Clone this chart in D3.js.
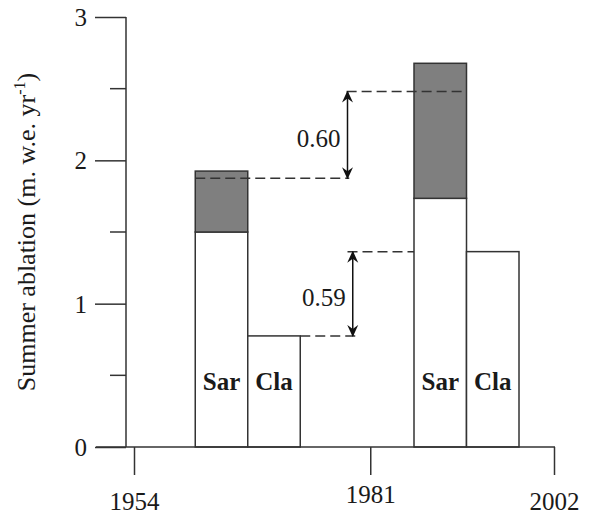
<!DOCTYPE html>
<html>
<head>
<meta charset="utf-8">
<script src="https://cdn.jsdelivr.net/npm/d3@7"></script>
<style>
    html, body { margin: 0; padding: 0; background: #fff; }
</style>
</head>
<body>
<div id="chart"></div>
<script>
// bars: glacier label, start / end year on the time axis
const barLabels = ['Sar', 'Cla', 'Sar', 'Cla'];
const barStart = [1961, 1967, 1986, 1992];
const barEnd = [1967, 1973, 1992, 1998];
// summer ablation (m w.e. per yr): white part and total height (grey on top)
const baseAblation = [1.50, 0.775, 1.735, 1.363];
const totalAblation = [1.925, 0.775, 2.677, 1.363];

// reference levels compared between the two periods
const sarLevels = [1.875, 2.48];
const claLevels = [0.775, 1.363];
const diffLabels = ['0.60', '0.59'];

const yearTicks = [1954, 1981, 2002];
const yMajor = [0, 1, 2, 3];
const yMinor = [0.5, 1.5, 2.5];

(function() {
    'use strict';

    const W = 589, H = 515;
    const ink = '#333';
    const serif = '"Liberation Serif", "DejaVu Serif", serif';

    const x = d3.scaleLinear().domain([1954, 2002]).range([134, 554]);
    const y = d3.scaleLinear().domain([0, 3]).range([447, 17]);

    const svg = d3.select('#chart').append('svg')
        .attr('width', W)
        .attr('height', H)
        .attr('font-family', serif);

    const defs = svg.append('defs');
    defs.append('marker')
        .attr('id', 'head')
        .attr('viewBox', '0 0 12 12')
        .attr('refX', 11)
        .attr('refY', 6)
        .attr('markerWidth', 12)
        .attr('markerHeight', 12)
        .attr('markerUnits', 'userSpaceOnUse')
        .attr('orient', 'auto-start-reverse')
        .append('path')
        .attr('d', 'M0,0.5 L12,6 L0,11.5 L4,6 Z')
        .attr('fill', '#111');

    // bars (white part, then grey part on top)
    const bars = svg.append('g');
    barLabels.forEach((lab, i) => {
        bars.append('rect')
            .attr('x', x(barStart[i]))
            .attr('y', y(baseAblation[i]))
            .attr('width', x(barEnd[i]) - x(barStart[i]))
            .attr('height', y(0) - y(baseAblation[i]))
            .attr('fill', '#fff')
            .attr('stroke', ink)
            .attr('stroke-width', 1.5);
        if (totalAblation[i] > baseAblation[i]) {
            bars.append('rect')
                .attr('x', x(barStart[i]))
                .attr('y', y(totalAblation[i]))
                .attr('width', x(barEnd[i]) - x(barStart[i]))
                .attr('height', y(baseAblation[i]) - y(totalAblation[i]))
                .attr('fill', '#7f7f7f')
                .attr('stroke', ink)
                .attr('stroke-width', 1.5);
        }
        bars.append('text')
            .attr('x', (x(barStart[i]) + x(barEnd[i])) / 2)
            .attr('y', 390)
            .attr('text-anchor', 'middle')
            .attr('font-family', serif)
            .attr('font-size', 25)
            .attr('font-weight', 'bold')
            .attr('fill', '#1a1a1a')
            .text(lab);
    });

    // dashed guides and difference arrows
    const guides = svg.append('g')
        .attr('stroke', ink)
        .attr('stroke-width', 1.5)
        .attr('stroke-dasharray', '10,5')
        .attr('fill', 'none');

    const arrowYear = [1978.4, 1979.0];
    const segs = [
        [barStart[0], arrowYear[0] + 0.2, sarLevels[0]],
        [arrowYear[0] - 0.1, barEnd[2], sarLevels[1]],
        [barEnd[1], arrowYear[1] + 0.3, claLevels[0]],
        [arrowYear[1] - 0.6, barStart[2], claLevels[1]]
    ];
    segs.forEach(s => {
        guides.append('line')
            .attr('x1', x(s[0])).attr('x2', x(s[1]))
            .attr('y1', y(s[2])).attr('y2', y(s[2]));
    });

    [sarLevels, claLevels].forEach((lv, i) => {
        svg.append('line')
            .attr('x1', x(arrowYear[i])).attr('x2', x(arrowYear[i]))
            .attr('y1', y(lv[0])).attr('y2', y(lv[1]))
            .attr('stroke', '#111')
            .attr('stroke-width', 1.5)
            .attr('marker-start', 'url(#head)')
            .attr('marker-end', 'url(#head)');
        svg.append('text')
            .attr('x', x(arrowYear[i]) - 7)
            .attr('y', y((lv[0] + lv[1]) / 2) + 12.5)
            .attr('text-anchor', 'end')
            .attr('font-family', serif)
            .attr('font-size', 25)
            .attr('fill', '#1a1a1a')
            .text(diffLabels[i]);
    });

    // y axis: major and minor ticks
    const yAxis = svg.append('g').attr('transform', 'translate(126,0)');
    yAxis.call(d3.axisLeft(y).tickValues(yMajor).tickSize(31).tickPadding(8).tickFormat(d3.format('d')));
    yAxis.append('g').selectAll('line')
        .data(yMinor)
        .enter().append('line')
        .attr('x1', -16).attr('x2', 0)
        .attr('y1', d => y(d)).attr('y2', d => y(d));
    yAxis.select('.domain').remove();
    yAxis.append('line').attr('x1', 0).attr('x2', 0).attr('y1', y(0)).attr('y2', y(3));
    yAxis.selectAll('line').attr('stroke', ink).attr('stroke-width', 1.5);
    yAxis.attr('font-family', serif).attr('font-size', 25);
    yAxis.selectAll('text')
        .attr('fill', '#1a1a1a')
        .attr('dy', '0.34em');

    // x axis: baseline plus year ticks below
    svg.append('line')
        .attr('x1', 96).attr('x2', 555)
        .attr('y1', y(0)).attr('y2', y(0))
        .attr('stroke', ink).attr('stroke-width', 1.5);
    const xAxis = svg.append('g').attr('transform', `translate(0,${y(0)})`);
    xAxis.call(d3.axisBottom(x).tickValues(yearTicks).tickSize(28).tickPadding(8).tickFormat(d3.format('d')));
    xAxis.select('.domain').remove();
    xAxis.selectAll('line').attr('stroke', ink).attr('stroke-width', 1.5);
    xAxis.attr('font-family', serif).attr('font-size', 25);
    xAxis.selectAll('text')
        .attr('fill', '#1a1a1a')
        .attr('dy', null)
        .attr('y', d => d === 1981 ? 56 : 63);

    // y axis title with superscript
    const title = svg.append('text')
        .attr('transform', 'translate(35,232) rotate(-90)')
        .attr('text-anchor', 'middle')
        .attr('font-family', serif)
        .attr('font-size', 26)
        .attr('fill', '#1a1a1a');
    title.append('tspan').text('Summer ablation (m. w.e. yr');
    title.append('tspan').attr('dy', -10).attr('font-size', 16).text('-1');
    title.append('tspan').attr('dy', 10).text(')');
})();
</script>
</body>
</html>
